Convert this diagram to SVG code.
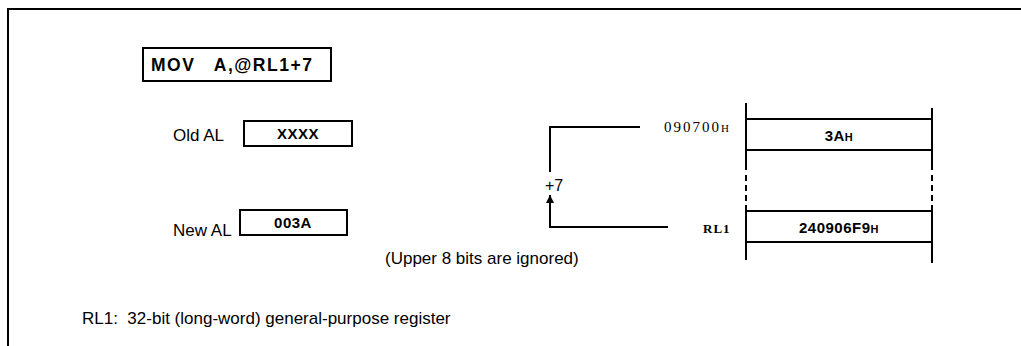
<svg xmlns="http://www.w3.org/2000/svg" width="1021" height="346" viewBox="0 0 1021 346">
<defs>
<style>
.ln{stroke:#000;stroke-width:2;fill:none}
.bx{stroke:#000;stroke-width:2;fill:#fff}
.t{font-family:"Liberation Sans",Arial,sans-serif;font-size:17px;fill:#000;white-space:pre}
.tb{font-family:"Liberation Sans",Arial,sans-serif;font-size:15px;fill:#000;font-weight:bold;letter-spacing:0.5px}
.ts{font-family:"Liberation Serif","Times New Roman",serif;font-size:15px;fill:#000;letter-spacing:2px}
.sub{font-size:11px}
</style>
<marker id="ah" viewBox="0 0 10 10" refX="10" refY="5" markerWidth="10" markerHeight="8" orient="auto" markerUnits="userSpaceOnUse">
<path d="M0,0 L10,5 L0,10 Z" fill="#000"/>
</marker>
</defs>
<rect width="1021" height="346" fill="#fff"/>
<g id="frame">
<path class="ln" d="M8,346 V9 H1021"/>
</g>
<g id="instr">
<rect class="bx" x="143" y="48" width="188" height="33"/>
<text class="t" x="151" y="71" xml:space="preserve" style="font-weight:bold;letter-spacing:1.5px;font-size:17.5px">MOV   A,@RL1+7</text>
</g>
<g id="oldal">
<text class="t" x="173" y="141">Old AL</text>
<rect class="bx" x="244" y="121" width="108" height="25"/>
<text class="tb" x="298" y="139" text-anchor="middle">XXXX</text>
</g>
<g id="newal">
<text class="t" x="173" y="236">New AL</text>
<rect class="bx" x="240" y="210" width="107" height="25"/>
<text class="tb" x="293" y="228" text-anchor="middle">003A</text>
</g>
<g id="memory">
<path class="ln" d="M746,103 V170 M746,205 V260 M932,108 V170 M932,205 V263"/>
<path class="ln" d="M746,175 V202 M932,175 V202" stroke-dasharray="6,4"/>
<path class="ln" d="M746,119 H932 M746,150 H932 M746,211 H932 M746,242 H932"/>
<text class="tb" x="839" y="141" text-anchor="middle">3A<tspan class="sub">H</tspan></text>
<text class="tb" x="839" y="233" text-anchor="middle">240906F9<tspan class="sub">H</tspan></text>
<text class="ts" x="664" y="132">090700<tspan class="sub">H</tspan></text>
<text class="ts" x="703" y="233" style="font-weight:bold;font-size:13px;letter-spacing:1px">RL1</text>
</g>
<g id="connectors">
<path class="ln" d="M640,127 H550 V172"/>
<path class="ln" d="M668,227 H550 V195" marker-end="url(#ah)"/>
<text class="t" x="545" y="191" style="font-size:16px">+7</text>
</g>
<text class="t" x="385" y="264">(Upper 8 bits are ignored)</text>
<text class="t" x="82" y="324" xml:space="preserve">RL1:  32-bit (long-word) general-purpose register</text>
</svg>
